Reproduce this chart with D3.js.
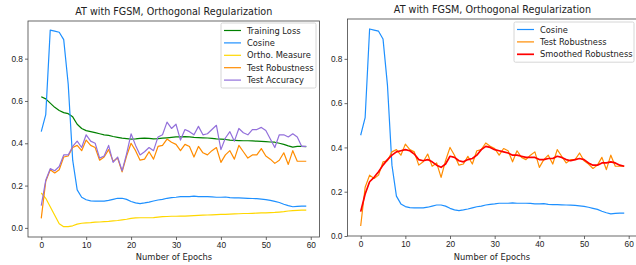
<!DOCTYPE html>
<html>
<head>
<meta charset="utf-8">
<script src="https://cdn.jsdelivr.net/npm/d3@7/dist/d3.min.js"></script>
<style>
  body { margin: 0; background: #fff; }
  svg { font-family: "DejaVu Sans", sans-serif; }
  .tick text { font-size: 8.3px; fill: #222; }
</style>
</head>
<body>
<svg id="chart" width="636" height="265"></svg>
<script>
var epochs = d3.range(0, 60)

var trainingLoss = [0.62, 0.61, 0.59, 0.57, 0.555, 0.545, 0.54, 0.525, 0.49, 0.47,
    0.46, 0.455, 0.45, 0.445, 0.44, 0.437, 0.432, 0.428, 0.424, 0.422,
    0.42, 0.421, 0.423, 0.424, 0.423, 0.421, 0.422, 0.424, 0.426, 0.428,
    0.43, 0.43, 0.431, 0.43, 0.428, 0.427, 0.426, 0.425, 0.423, 0.421,
    0.42, 0.418, 0.415, 0.414, 0.413, 0.412, 0.412, 0.411, 0.41, 0.409,
    0.408, 0.406, 0.405, 0.4, 0.395, 0.388, 0.382, 0.385, 0.385, 0.384]

var cosine = [0.455, 0.535, 0.935, 0.93, 0.925, 0.89, 0.68, 0.32, 0.18, 0.145,
    0.133, 0.128, 0.127, 0.127, 0.127, 0.13, 0.135, 0.14, 0.14, 0.135,
    0.125, 0.118, 0.115, 0.118, 0.122, 0.127, 0.132, 0.135, 0.14, 0.143,
    0.145, 0.148, 0.148, 0.148, 0.15, 0.148, 0.148, 0.148, 0.147, 0.145,
    0.145, 0.146, 0.143, 0.142, 0.142, 0.141, 0.14, 0.139, 0.138, 0.136,
    0.134, 0.13, 0.125, 0.12, 0.112, 0.105, 0.1, 0.102, 0.103, 0.103]

var orthoMeasure = [0.165, 0.14, 0.1, 0.06, 0.02, 0.006, 0.006, 0.01, 0.018, 0.022,
    0.024, 0.025, 0.027, 0.028, 0.03, 0.031, 0.033, 0.035, 0.038, 0.041,
    0.045, 0.047, 0.048, 0.048, 0.048, 0.049, 0.051, 0.053, 0.054, 0.055,
    0.055, 0.056, 0.056, 0.057, 0.058, 0.059, 0.06, 0.061, 0.062, 0.063,
    0.064, 0.064, 0.065, 0.066, 0.067, 0.068, 0.068, 0.069, 0.07, 0.071,
    0.071, 0.072, 0.073, 0.075, 0.077, 0.08, 0.082, 0.083, 0.084, 0.084]

var testRobustness = [0.045, 0.22, 0.275, 0.26, 0.275, 0.335, 0.34, 0.38, 0.39, 0.365,
    0.415, 0.39, 0.38, 0.32, 0.335, 0.37, 0.315, 0.33, 0.265, 0.34,
    0.4, 0.365, 0.32, 0.325, 0.36, 0.325, 0.385, 0.39, 0.42, 0.405,
    0.395, 0.365, 0.395, 0.385, 0.335, 0.385, 0.355, 0.345, 0.365, 0.38,
    0.31, 0.345, 0.365, 0.325, 0.39, 0.36, 0.33, 0.345, 0.345, 0.375,
    0.34, 0.325, 0.305, 0.32, 0.355, 0.3, 0.365, 0.315, 0.315, 0.315]

var testAccuracy = [0.105, 0.225, 0.28, 0.27, 0.29, 0.345, 0.345, 0.385, 0.41, 0.38,
    0.44, 0.41, 0.4, 0.33, 0.34, 0.39, 0.31, 0.335, 0.27, 0.35,
    0.445, 0.39, 0.345, 0.36, 0.38, 0.365, 0.43, 0.44, 0.5, 0.47,
    0.49, 0.415, 0.465, 0.455, 0.44, 0.48, 0.44, 0.445, 0.465, 0.485,
    0.37, 0.425, 0.455, 0.41, 0.47, 0.45, 0.44, 0.465, 0.465, 0.475,
    0.46, 0.42, 0.38, 0.44, 0.44, 0.43, 0.445, 0.43, 0.385, 0.385]

var smoothedRobustness = [0.11, 0.19, 0.245, 0.265, 0.29, 0.32, 0.345, 0.365, 0.38, 0.385,
    0.39, 0.385, 0.37, 0.345, 0.34, 0.345, 0.335, 0.32, 0.31, 0.325,
    0.36, 0.355, 0.34, 0.335, 0.345, 0.35, 0.365, 0.39, 0.405, 0.4,
    0.39, 0.385, 0.38, 0.375, 0.365, 0.365, 0.36, 0.355, 0.355, 0.355,
    0.345, 0.345, 0.35, 0.35, 0.36, 0.355, 0.345, 0.34, 0.345, 0.35,
    0.345, 0.33, 0.32, 0.32, 0.33, 0.33, 0.335, 0.33, 0.32, 0.315]

var xTicks = [0, 10, 20, 30, 40, 50, 60]
var yTicks = [0.0, 0.2, 0.4, 0.6, 0.8]
var title = "AT with FGSM, Orthogonal Regularization"
var xLabel = "Number of Epochs"

var svg = d3.select("#chart")

function drawPanel(p) {
    var x = d3.scaleLinear().domain([-2.95, 61.95]).range([p.left, p.right])
    var y = d3.scaleLinear().domain(p.ydomain).range([p.bottom, p.top])

    var g = svg.append("g")

    // clip so lines stay inside the frame
    var clipId = "clip" + p.id
    svg.append("clipPath").attr("id", clipId)
        .append("rect")
        .attr("x", p.left).attr("y", p.top)
        .attr("width", p.right - p.left).attr("height", p.bottom - p.top)

    var line = d3.line()
        .x(function (d, i) { return x(epochs[i]) })
        .y(function (d) { return y(d) })

    var lines = g.append("g").attr("clip-path", "url(#" + clipId + ")")
    p.series.forEach(function (s) {
        lines.append("path")
            .attr("fill", "none")
            .attr("stroke", s.color)
            .attr("stroke-width", s.width || 1.2)
            .attr("stroke-linejoin", "round")
            .attr("d", line(s.values))
    })

    // frame
    g.append("rect")
        .attr("x", p.left).attr("y", p.top)
        .attr("width", p.right - p.left).attr("height", p.bottom - p.top)
        .attr("fill", "none")
        .attr("stroke", "#444")
        .attr("stroke-width", 0.8)

    var xAxis = g.append("g")
        .attr("transform", "translate(0," + p.bottom + ")")
        .call(d3.axisBottom(x).tickValues(xTicks).tickSize(3).tickPadding(2).tickFormat(d3.format("d")))
    xAxis.select(".domain").remove()

    var yAxis = g.append("g")
        .attr("transform", "translate(" + p.left + ",0)")
        .call(d3.axisLeft(y).tickValues(yTicks).tickSize(3).tickPadding(2).tickFormat(d3.format(".1f")))
    yAxis.select(".domain").remove()
    g.selectAll(".tick line").attr("stroke", "#444").attr("stroke-width", 0.8)

    g.append("text")
        .attr("x", (p.left + p.right) / 2)
        .attr("y", p.top - 6)
        .attr("text-anchor", "middle")
        .attr("font-size", 9.6)
        .attr("fill", "#222")
        .text(title)

    g.append("text")
        .attr("x", p.labelX)
        .attr("y", 260)
        .attr("text-anchor", "middle")
        .attr("font-size", 8.3)
        .attr("fill", "#222")
        .text(xLabel)

    // legend
    var lg = g.append("g")
    lg.append("rect")
        .attr("x", p.legend.x).attr("y", p.legend.y)
        .attr("width", p.legend.w).attr("height", p.series.length * 12.4 + 3)
        .attr("rx", 1.5)
        .attr("fill", "#fff").attr("fill-opacity", 0.8)
        .attr("stroke", "#ccc").attr("stroke-width", 0.8)
    p.series.forEach(function (s, i) {
        var yy = p.legend.y + 7.5 + i * 12.4
        lg.append("line")
            .attr("x1", p.legend.x + 3).attr("x2", p.legend.x + 20)
            .attr("y1", yy).attr("y2", yy)
            .attr("stroke", s.color)
            .attr("stroke-width", s.width || 1.2)
        lg.append("text")
            .attr("x", p.legend.x + 26)
            .attr("y", yy + 3)
            .attr("font-size", 8.3)
            .attr("fill", "#222")
            .text(s.name)
    })
}

drawPanel({
    id: "L", left: 28, right: 319.5, top: 21, bottom: 237,
    ydomain: [-0.043, 0.978], labelX: 174,
    legend: { x: 221, y: 23, w: 95 },
    series: [
        { name: "Training Loss", values: trainingLoss, color: "#008000" },
        { name: "Cosine", values: cosine, color: "#1e90ff" },
        { name: "Ortho. Measure", values: orthoMeasure, color: "#ffd700" },
        { name: "Test Robustness", values: testRobustness, color: "#ff8c00" },
        { name: "Test Accuracy", values: testAccuracy, color: "#9370db" }
    ]
})

drawPanel({
    id: "R", left: 347.5, right: 637.4, top: 19, bottom: 236,
    ydomain: [0, 0.98], labelX: 492,
    legend: { x: 514, y: 22, w: 120 },
    series: [
        { name: "Cosine", values: cosine, color: "#1e90ff" },
        { name: "Test Robustness", values: testRobustness, color: "#ff8c00" },
        { name: "Smoothed Robustness", values: smoothedRobustness, color: "#ff0000", width: 1.7 }
    ]
})
</script>
</body>
</html>
